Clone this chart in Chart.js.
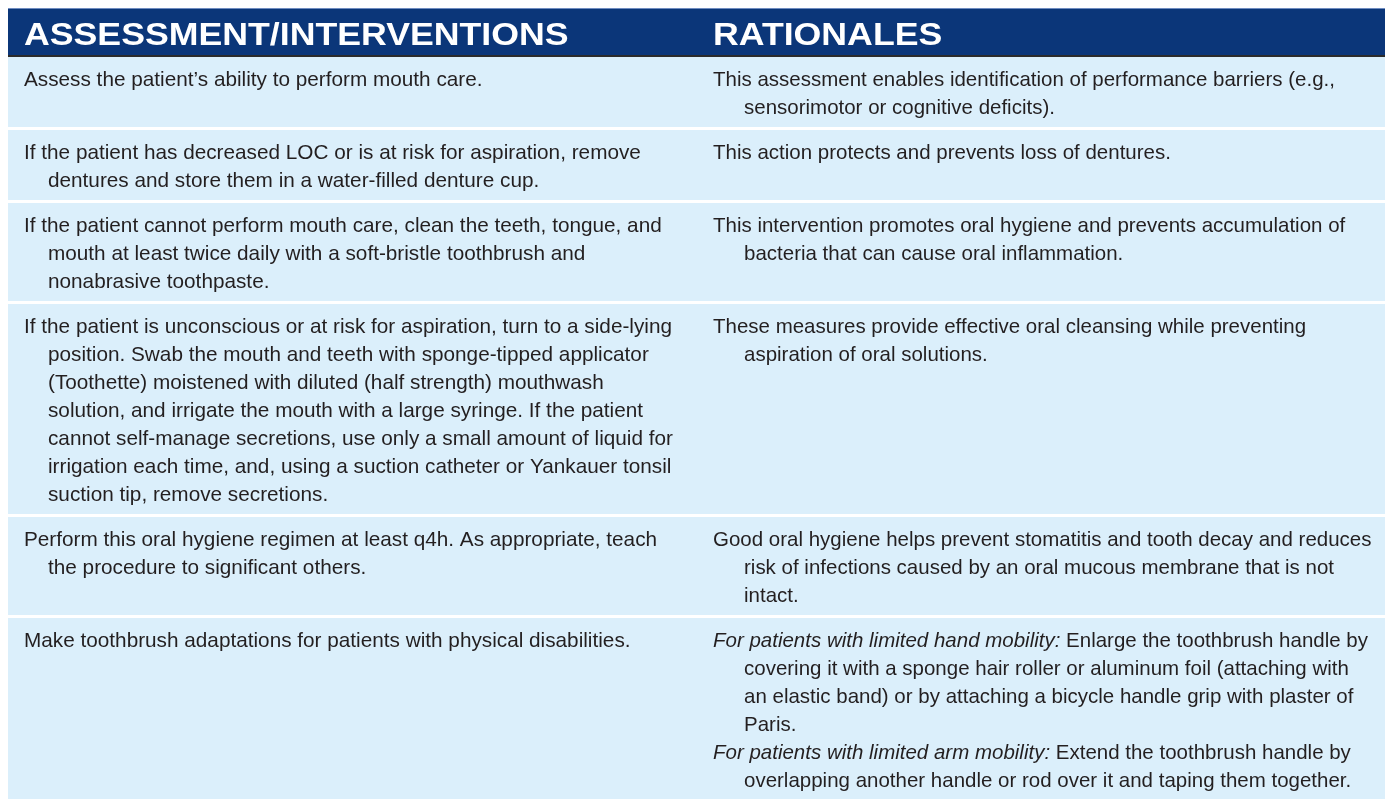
<!DOCTYPE html>
<html><head><meta charset="utf-8">
<script src="https://cdn.jsdelivr.net/npm/chart.js@4.4.1/dist/chart.umd.min.js"></script>
<style>
html,body{margin:0;padding:0;background:#fff;}
#wrap{width:1385px;height:799px;position:relative;}
</style>
</head><body>
<div id="wrap"><canvas id="c"></canvas></div>
<script>
// ---- Table content (text data) ----
const headers = ["ASSESSMENT/INTERVENTIONS", "RATIONALES"];

// each cell = list of paragraphs, each paragraph = list of lines (first line flush, rest indented)
const interventions = [
  [["Assess the patient\u2019s ability to perform mouth care."]],
  [["If the patient has decreased LOC or is at risk for aspiration, remove",
    "dentures and store them in a water-filled denture cup."]],
  [["If the patient cannot perform mouth care, clean the teeth, tongue, and",
    "mouth at least twice daily with a soft-bristle toothbrush and",
    "nonabrasive toothpaste."]],
  [["If the patient is unconscious or at risk for aspiration, turn to a side-lying",
    "position. Swab the mouth and teeth with sponge-tipped applicator",
    "(Toothette) moistened with diluted (half strength) mouthwash",
    "solution, and irrigate the mouth with a large syringe. If the patient",
    "cannot self-manage secretions, use only a small amount of liquid for",
    "irrigation each time, and, using a suction catheter or Yankauer tonsil",
    "suction tip, remove secretions."]],
  [["Perform this oral hygiene regimen at least q4h. As appropriate, teach",
    "the procedure to significant others."]],
  [["Make toothbrush adaptations for patients with physical disabilities."]]
];

const rationales = [
  [["This assessment enables identification of performance barriers (e.g.,",
    "sensorimotor or cognitive deficits)."]],
  [["This action protects and prevents loss of dentures."]],
  [["This intervention promotes oral hygiene and prevents accumulation of",
    "bacteria that can cause oral inflammation."]],
  [["These measures provide effective oral cleansing while preventing",
    "aspiration of oral solutions."]],
  [["Good oral hygiene helps prevent stomatitis and tooth decay and reduces",
    "risk of infections caused by an oral mucous membrane that is not",
    "intact."]],
  [["*For patients with limited hand mobility:* Enlarge the toothbrush handle by",
    "covering it with a sponge hair roller or aluminum foil (attaching with",
    "an elastic band) or by attaching a bicycle handle grip with plaster of",
    "Paris."],
   ["*For patients with limited arm mobility:* Extend the toothbrush handle by",
    "overlapping another handle or rod over it and taping them together."]]
];

// ---- Style / layout ----
const W = 1385, H = 799;
const COL_X = [24, 713];
const INDENT = [24, 31];
const COL_REF_WIDTH = [648, 655];   // measured width of each column's longest reference line
const TABLE_LEFT = 8, TABLE_TOP = 8, HEADER_BOTTOM = 55, HEADER_RULE = 2;
const LH = 28, PAD = 14, SEP = 3;
const BODY_FONT = "'Liberation Sans Narrow', 'Liberation Sans', Arial, sans-serif";
const HEAD_FONT = "'Liberation Sans', Arial, sans-serif";
const BODY_SIZE = 21;
const HEADER_SIZE = 32;
const COLORS = {header:"#0b3679", topline:"#6f8cc0", rule:"#2b2b2b", row:"#dbeffb", text:"#231f20", headText:"#ffffff"};

function cellLines(cell){ return cell.reduce((s,p)=>s+p.length,0); }

function richWidth(ctx, str){
  let w = 0;
  str.split("*").forEach((seg, i) => {
    if (!seg) return;
    ctx.font = (i % 2 ? "italic " : "") + BODY_SIZE + "px " + BODY_FONT;
    w += ctx.measureText(seg).width;
  });
  return w;
}

function drawRich(ctx, str, x, y, sx){
  ctx.save();
  ctx.translate(x, y);
  ctx.scale(sx, 1);
  let cx = 0;
  str.split("*").forEach((seg, i) => {
    if (!seg) return;
    ctx.font = (i % 2 ? "italic " : "") + BODY_SIZE + "px " + BODY_FONT;
    ctx.fillText(seg, cx, 0);
    cx += ctx.measureText(seg).width;
  });
  ctx.restore();
}

const tablePlugin = {
  id: "tablePlugin",
  afterDraw(chart){
    const ctx = chart.ctx;
    const xs = chart.scales.x, ys = chart.scales.y;
    const px = v => xs.getPixelForValue(v);
    const py = v => ys.getPixelForValue(v);
    ctx.save();
    // header band
    ctx.fillStyle = COLORS.header;
    ctx.fillRect(px(TABLE_LEFT), py(TABLE_TOP), px(W)-px(TABLE_LEFT), py(HEADER_BOTTOM)-py(TABLE_TOP));
    ctx.fillStyle = COLORS.topline;
    ctx.fillRect(px(TABLE_LEFT), py(TABLE_TOP), px(W)-px(TABLE_LEFT), 1);
    ctx.fillStyle = COLORS.rule;
    ctx.fillRect(px(TABLE_LEFT), py(HEADER_BOTTOM), px(W)-px(TABLE_LEFT), HEADER_RULE);
    // header text (extended bold)
    ctx.fillStyle = COLORS.headText;
    ctx.textBaseline = "alphabetic";
    headers.forEach((h, i) => {
      ctx.save();
      ctx.translate(px(COL_X[i]), py(45));
      ctx.scale(1.115, 1);
      ctx.font = "bold " + HEADER_SIZE + "px " + HEAD_FONT;
      ctx.fillText(h, 0, 0);
      ctx.restore();
    });
    // per-column horizontal factor calibrated to the reference line widths
    const sxs = [
      COL_REF_WIDTH[0] / richWidth(ctx, interventions[3][0][0]),
      COL_REF_WIDTH[1] / richWidth(ctx, rationales[5][0][0])
    ];
    let top = HEADER_BOTTOM + HEADER_RULE;
    for (let r = 0; r < interventions.length; r++){
      const n = Math.max(cellLines(interventions[r]), cellLines(rationales[r]));
      const h = n * LH + PAD;
      const bottom = r === interventions.length - 1 ? H : top + h;
      ctx.fillStyle = COLORS.row;
      ctx.fillRect(px(TABLE_LEFT), py(top), px(W)-px(TABLE_LEFT), py(bottom)-py(top));
      ctx.fillStyle = COLORS.text;
      [interventions[r], rationales[r]].forEach((cell, c) => {
        let li = 0;
        cell.forEach(par => {
          par.forEach((line, k) => {
            const x = COL_X[c] + (k > 0 ? INDENT[c] : 0);
            const y = top + PAD/2 + LH*li + 22;
            drawRich(ctx, line, px(x), py(y), sxs[c]);
            li++;
          });
        });
      });
      top = bottom + SEP;
    }
    ctx.restore();
  }
};

new Chart(document.getElementById("c"), {
  type: "scatter",
  data: { datasets: [{ data: [], showLine: false }] },
  options: {
    responsive: true, maintainAspectRatio: false, animation: false,
    layout: { padding: 0 },
    plugins: { legend: { display: false }, tooltip: { enabled: false } },
    scales: {
      x: { type: "linear", min: 0, max: W, display: false, offset: false },
      y: { type: "linear", min: 0, max: H, reverse: true, display: false, offset: false }
    }
  },
  plugins: [tablePlugin]
});
</script>
</body></html>
